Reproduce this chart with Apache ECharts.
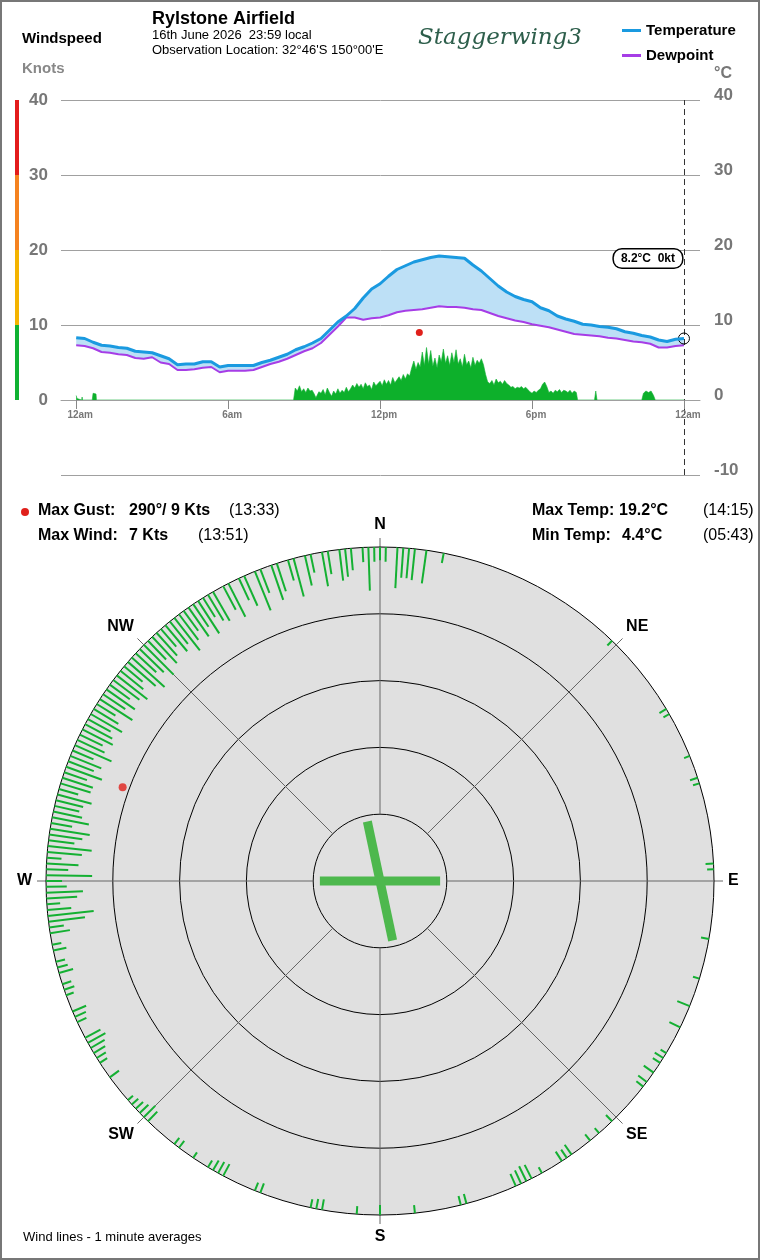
<!DOCTYPE html>
<html lang="en">
<head>
  <meta charset="UTF-8">
  <title>Rylstone Airfield</title>
  <script src="https://cdn.jsdelivr.net/npm/echarts@6/dist/echarts.min.js"></script>
  <style>
    html, body {
      margin: 0;
      padding: 0;
      background: #fff;
    }

    #chart-main {
      width: 760px;
      height: 1260px;
    }

    .frame {
      position: absolute;
      left: 0;
      top: 0;
      width: 760px;
      height: 1260px;
      box-sizing: border-box;
      border: 2px solid #777;
      pointer-events: none;
    }
  </style>
</head>
<body>
<div id="chart-main"></div>
<div class="frame"></div>

<script type="text/javascript">
  // observation times (minutes after midnight) for temperature / dewpoint
  const obsMinutes = [0, 20, 40, 60, 80, 100, 120, 140, 160, 180, 200, 220, 240, 260, 280, 300, 320, 340, 360, 380,
    400, 420, 440, 460, 480, 500, 520, 540, 560, 580, 600, 620, 640, 660, 680, 700, 720, 740, 760, 780,
    800, 820, 840, 860, 880, 900, 920, 940, 960, 980, 1000, 1020, 1040, 1060, 1080, 1100, 1120, 1140, 1160, 1180,
    1200, 1220, 1240, 1260, 1280, 1300, 1320, 1340, 1360, 1380, 1400, 1420, 1440]
  const temperature = [8.3, 8.2, 7.7, 7.3, 7.2, 7.0, 6.9, 6.5, 6.4, 6.3,
    5.9, 5.5, 4.7, 4.8, 4.8, 5.1, 5.1, 4.4, 4.6, 4.6,
    4.6, 4.6, 5.0, 5.3, 5.7, 6.1, 6.7, 7.1, 7.6, 8.2,
    9.3, 10.4, 11.2, 12.2, 13.6, 14.8, 15.5, 16.5, 17.4, 17.9,
    18.4, 18.7, 19.0, 19.2, 19.1, 19.0, 18.9, 18.0, 17.2, 16.2,
    15.2, 14.4, 13.8, 13.4, 13.1, 12.3, 11.9, 11.2, 10.8, 10.5,
    10.1, 10.0, 9.8, 9.7, 9.5, 9.1, 8.9, 8.6, 8.4, 8.0,
    7.8, 8.1, 8.2]
  const dewpoint = [7.3, 7.2, 6.9, 6.4, 6.3, 6.1, 6.0, 5.6, 5.5, 5.7,
    5.0, 4.8, 4.0, 4.0, 4.1, 4.3, 4.4, 3.7, 3.9, 3.9,
    3.9, 4.0, 4.4, 4.8, 5.1, 5.5, 6.0, 6.5, 6.9, 7.6,
    8.7, 9.8, 11.0, 11.0, 10.7, 10.9, 11.0, 11.3, 11.7, 11.9,
    12.0, 12.1, 12.3, 12.5, 12.4, 12.4, 12.3, 12.1, 12.0, 11.6,
    11.2, 10.9, 10.6, 10.4, 10.1, 9.9, 9.7, 9.4, 9.1, 8.8,
    8.7, 8.6, 8.5, 8.3, 8.2, 8.0, 7.8, 7.7, 7.5, 7.0,
    7.0, 7.2, 7.3]

  // windspeed trace (knots)
  const windMinutes = [0, 2, 4, 13, 14, 15, 38, 40, 44, 47, 48, 515,
    519, 524, 529, 534, 539, 544, 549, 554, 559, 564, 568, 572, 575, 580, 585, 590, 595, 600,
    605, 610, 615, 620, 625, 630, 635, 640, 645, 650, 655, 660, 665, 670, 675, 680, 685, 690, 695, 700,
    705, 710, 715, 720, 725, 730, 735, 740, 745, 750, 755, 760, 765, 770, 775, 780, 785, 790, 795, 800,
    805, 810, 815, 820, 825, 830, 835, 840, 845, 850, 855, 860, 865, 870, 875, 880, 885, 890, 895, 900,
    905, 910, 915, 920, 925, 930, 935, 940, 945, 950, 955, 960, 965, 970, 975, 980, 985, 990, 995, 1000,
    1005, 1010, 1015, 1020, 1025, 1030, 1035, 1040, 1045, 1050, 1055, 1060, 1065, 1070, 1075, 1080, 1085, 1090, 1095, 1100,
    1105, 1110, 1115, 1120, 1125, 1130, 1135, 1140, 1145, 1150, 1155, 1160, 1165, 1170, 1175, 1180, 1185, 1188,
    1228, 1231, 1234, 1340, 1344, 1350, 1356, 1362, 1368, 1372, 1440]
  const windKnots = [0.6, 0.2, 0, 0, 0.4, 0, 0, 0.9, 1.1, 0.8, 0, 0,
    1.6, 1.2, 1.9, 1.1, 1.5, 1.0, 1.6, 1.2, 1.3, 0.8, 0.3, 0.2, 1.1, 0.9, 1.4, 0.7, 1.6, 1.0,
    0.5, 1.2, 0.8, 1.5, 0.9, 1.3, 1.0, 1.7, 1.1, 1.5, 2.0, 1.6, 2.2, 1.7, 2.1, 1.5, 2.3, 1.8, 2.0, 1.4,
    2.4, 1.9, 2.2, 2.5, 1.9, 2.7, 2.1, 2.6, 2.0, 3.0, 2.3, 2.7, 3.1, 2.6, 3.4, 2.8, 3.5, 3.2, 4.3, 5.2,
    4.1, 5.0, 4.4, 6.4, 4.6, 7.0, 4.8, 6.6, 4.5, 5.6, 4.3, 6.0, 5.1, 6.8, 4.9, 5.9, 4.6, 6.3, 5.0, 6.7,
    4.8, 5.5, 4.4, 6.1, 4.7, 5.2, 4.3, 5.7, 4.6, 5.3, 4.9, 5.5, 4.7, 3.4, 2.4, 2.2, 2.6, 2.0, 2.8, 2.3,
    2.5, 2.1, 2.6, 2.2, 2.0, 1.7, 1.8, 1.5, 1.7, 1.6, 1.8, 1.5, 1.7, 1.4, 1.1, 0.9, 1.2, 1.0, 1.3, 1.5,
    2.1, 2.4, 1.8, 1.0, 1.2, 0.9, 1.3, 1.1, 1.4, 1.0, 1.3, 1.2, 1.0, 1.3, 0.9, 1.2, 1.0, 0,
    0, 1.2, 0, 0, 0.9, 1.2, 1.0, 1.2, 0.6, 0, 0]

  // 1 minute average wind: direction (deg true) and speed (knots)
  const windDirDeg = [0, 1, 3, 4, 5, 6, 8, 11,
    44, 59, 60, 68, 72, 73, 87, 88,
    100, 107, 112, 116, 121, 122, 123, 125, 127, 128,
    136, 139, 141, 145, 146, 147, 151, 153, 154, 155, 156,
    165, 166, 174, 180, 184, 190, 191, 192, 201, 202,
    208, 209, 210, 211, 214, 217, 218,
    224, 225, 226, 227, 228, 229, 234, 237, 238, 239, 240, 241, 242,
    245, 246, 247, 250, 251, 252, 254, 255, 256,
    258, 259, 261, 262, 263, 264, 265, 266, 267, 268, 269, 270,
    271, 272, 273, 274, 275, 276, 277, 278, 279, 280,
    281, 282, 283, 284, 285, 286, 287, 288, 289, 290,
    291, 292, 293, 294, 295, 296, 297, 298, 299, 300,
    301, 302, 303, 304, 305, 306, 307, 308, 309, 310,
    311, 312, 313, 314, 315, 316, 317, 318, 319, 320,
    321, 322, 323, 324, 325, 326, 327, 328, 329, 330,
    332, 333, 335, 336, 338, 339, 341, 342, 344, 345,
    347, 348, 350, 351, 353, 354, 355, 357, 358, 359]
  const windDirKts = [2.0, 2.2, 6.1, 4.5, 4.5, 4.7, 5.0, 1.5,
    1.0, 1.2, 1.0, 0.9, 1.2, 1.0, 1.2, 1.0,
    1.2, 1.0, 2.0, 1.8, 1.0, 1.5, 1.3, 1.8, 1.6, 1.3,
    1.3, 1.0, 1.2, 1.8, 1.5, 1.7, 1.0, 2.3, 2.5, 2.2, 2.0,
    1.5, 1.4, 1.2, 1.5, 1.2, 1.6, 1.5, 1.3, 1.5, 1.3,
    2.0, 1.9, 1.7, 1.2, 1.0, 1.3, 1.2,
    2.0, 2.4, 1.8, 1.5, 1.3, 1.0, 1.7, 1.3, 1.6, 2.0, 2.4, 3.0, 2.6,
    1.5, 1.8, 2.2, 1.2, 1.6, 1.4, 2.2, 1.6, 1.4,
    2.0, 1.4, 3.0, 2.2, 5.5, 6.9, 3.6, 2.0, 4.6, 5.5, 3.1, 2.4,
    6.9, 3.3, 4.8, 2.2, 5.2, 6.6, 3.9, 5.0, 6.0, 3.2,
    5.6, 4.4, 3.8, 4.2, 5.3, 3.0, 4.7, 4.8, 3.6, 5.7,
    4.1, 5.0, 3.4, 6.0, 4.5, 3.8, 5.1, 4.6, 3.9, 5.4,
    4.3, 3.3, 5.8, 4.0, 5.2, 3.7, 4.9, 5.8, 4.4, 3.6,
    5.5, 6.6, 4.2, 5.0, 6.3, 3.9, 5.4, 4.6, 3.5, 5.1,
    4.3, 6.2, 4.8, 3.7, 5.3, 4.1, 5.8, 3.4, 4.5, 5.0,
    4.0, 5.6, 3.6, 4.9, 6.3, 3.8, 5.5, 4.4, 3.2, 5.9,
    4.6, 2.8, 5.2, 3.5, 4.7, 4.2, 3.3, 2.2, 6.5, 2.2]

  // max gust: time (min), direction, knots
  const gust = {minute: 813, dir: 290, knots: 9}

  // runways: heading and half length (in knot-ring units)
  const runwayHeading = [90, 168]
  const runwayHalfLen = [9.0, 9.1]

  const tickMinutes = [0, 360, 720, 1080, 1440]
  const tickLabels = ['12am', '6am', '12pm', '6pm', '12am']
  const knotBands = [10, 20, 30, 40]
  const bandColors = ['#10b232', '#f4b400', '#f5821f', '#e31c1c']
  const ringKnots = [10, 20, 30, 40]
  const spokeDeg = [0, 45, 90, 135, 180, 225, 270, 315]
  const compass = ['N', 'NE', 'E', 'SE', 'S', 'SW', 'W', 'NW']

  const FONT = "'Liberation Sans', Arial, sans-serif"
  const GREY = '#777777'
  const RING_MAX = 50

  let echartItem = echarts.init(document.getElementById('chart-main'))

  const lastT = temperature[temperature.length - 1]
  const lastWind = windKnots[windKnots.length - 1]

  function txt(x, y, text, size, weight, color, family) {
    return {
      type: 'text',
      x: x,
      y: y,
      style: {
        text: text,
        font: (weight || 'normal') + ' ' + size + 'px ' + (family || FONT),
        fill: color || '#000',
        verticalAlign: 'middle'
      }
    }
  }

  function polarLine(r0, r1, stroke, width) {
    return function (params, api) {
      let a = api.value(1)
      let p0 = api.coord([r0 === null ? api.value(0) : r0, a])
      let p1 = api.coord([r1 === null ? api.value(0) : r1, a])
      return {
        type: 'line',
        shape: {x1: p0[0], y1: p0[1], x2: p1[0], y2: p1[1]},
        style: {stroke: stroke, lineWidth: width}
      }
    }
  }

  let bandSeries = knotBands.map((top, i) => ({
    type: 'bar',
    xAxisIndex: 1,
    yAxisIndex: 2,
    stack: 'scale',
    barWidth: '100%',
    silent: true,
    itemStyle: {color: bandColors[i]},
    data: [top - (i ? knotBands[i - 1] : 0)]
  }))

  let option = {
    animation: false,
    textStyle: {fontFamily: FONT},
    legend: {
      data: ['Temperature', 'Dewpoint'],
      orient: 'vertical',
      left: 617,
      top: 18,
      itemWidth: 19,
      itemHeight: 3,
      itemGap: 10,
      icon: 'rect',
      selectedMode: false,
      textStyle: {fontFamily: FONT, fontSize: 15, fontWeight: 'bold', color: '#000'}
    },
    grid: [
      {left: 61, right: 60, top: 100, height: 375},
      {left: 15, width: 4, top: 100, height: 300}
    ],
    xAxis: [
      {
        gridIndex: 0,
        type: 'value',
        min: -36,
        max: 1478,
        position: 'bottom',
        offset: -75,
        z: 10,
        axisLine: {show: true, onZero: false, lineStyle: {color: '#a0a0a0'}},
        axisTick: {show: true, customValues: tickMinutes, length: 9, lineStyle: {color: '#888'}},
        axisLabel: {
          customValues: tickMinutes,
          formatter: v => tickLabels[tickMinutes.indexOf(v)],
          color: GREY,
          fontSize: 10,
          fontWeight: 'bold',
          margin: 10,
          padding: [0, 0, 0, 8]
        },
        splitLine: {show: false}
      },
      {gridIndex: 1, type: 'category', data: ['k'], show: false}
    ],
    yAxis: [
      {
        gridIndex: 0,
        type: 'value',
        position: 'left',
        min: -10,
        max: 40,
        interval: 10,
        axisLine: {show: false},
        axisTick: {show: false},
        axisLabel: {
          formatter: v => v < 0 ? '' : v,
          color: GREY,
          fontSize: 17,
          fontWeight: 'bold',
          margin: 13
        },
        splitLine: {lineStyle: {color: '#a0a0a0', width: 1}}
      },
      {
        gridIndex: 0,
        type: 'value',
        position: 'right',
        min: -10,
        max: 40,
        interval: 10,
        axisLine: {show: false},
        axisTick: {show: false},
        axisLabel: {
          color: GREY,
          fontSize: 17,
          fontWeight: 'bold',
          margin: 14,
          verticalAlign: 'bottom',
          lineHeight: 10
        },
        splitLine: {show: false}
      },
      {gridIndex: 1, type: 'value', min: 0, max: 40, show: false}
    ],
    polar: {center: [380, 881], radius: 334},
    angleAxis: {
      type: 'value',
      min: 0,
      max: 360,
      interval: 45,
      startAngle: 90,
      clockwise: true,
      axisLine: {lineStyle: {color: '#000', width: 1}},
      axisTick: {show: true, length: 9, lineStyle: {color: '#666'}},
      axisLabel: {
        margin: 14,
        formatter: v => v >= 360 ? '' : compass[v / 45],
        color: '#000',
        fontSize: 16,
        fontWeight: 'bold'
      },
      splitLine: {show: false}
    },
    radiusAxis: {
      type: 'value',
      min: 0,
      max: RING_MAX,
      interval: 10,
      inverse: true,
      axisLine: {show: false},
      axisTick: {show: false},
      axisLabel: {show: false},
      splitLine: {show: false},
      splitArea: {show: true, areaStyle: {color: ['#e0e0e0']}}
    },
    graphic: [
      txt(22, 39, 'Windspeed', 15, 'bold'),
      txt(22, 69, 'Knots', 15, 'bold', '#888'),
      txt(152, 19, 'Rylstone Airfield', 18, 'bold'),
      txt(152, 35, '16th June 2026  23:59 local', 13),
      txt(152, 50, 'Observation Location: 32°46\'S 150°00\'E', 13),
      txt(418, 38, 'Staggerwing3', 23, 'italic', '#2d5e4b', "'DejaVu Serif', serif"),
      txt(714, 74, '°C', 16, 'bold', GREY),
      {type: 'circle', shape: {cx: 25, cy: 512, r: 4}, style: {fill: '#e0201b'}},
      txt(38, 511, 'Max Gust:', 16, 'bold'),
      txt(129, 511, gust.dir + '°/ ' + gust.knots + ' Kts', 16, 'bold'),
      txt(229, 511, '(13:33)', 16),
      txt(38, 536, 'Max Wind:', 16, 'bold'),
      txt(129, 536, '7 Kts', 16, 'bold'),
      txt(198, 536, '(13:51)', 16),
      txt(532, 511, 'Max Temp:', 16, 'bold'),
      txt(619, 511, '19.2°C', 16, 'bold'),
      txt(703, 511, '(14:15)', 16),
      txt(532, 536, 'Min Temp:', 16, 'bold'),
      txt(622, 536, '4.4°C', 16, 'bold'),
      txt(703, 536, '(05:43)', 16),
      txt(23, 1237, 'Wind lines - 1 minute averages', 13)
    ],
    series: [
      {
        name: 'Wind',
        type: 'line',
        xAxisIndex: 0,
        yAxisIndex: 0,
        data: windMinutes.map((m, i) => [m, windKnots[i]]),
        showSymbol: false,
        silent: true,
        z: 2,
        lineStyle: {width: 0.6, color: '#12b035'},
        areaStyle: {color: '#0db02b', opacity: 1, origin: 0}
      },
      {
        name: 'band',
        type: 'custom',
        xAxisIndex: 0,
        yAxisIndex: 1,
        silent: true,
        z: 3,
        data: [[0, 0]],
        renderItem: function (params, api) {
          let top = obsMinutes.map((m, i) => api.coord([m, temperature[i]]))
          let low = obsMinutes.map((m, i) => api.coord([m, dewpoint[i]])).reverse()
          return {
            type: 'polygon',
            shape: {points: top.concat(low)},
            style: {fill: '#bde0f6'}
          }
        }
      },
      {
        name: 'Dewpoint',
        type: 'line',
        xAxisIndex: 0,
        yAxisIndex: 1,
        data: obsMinutes.map((m, i) => [m, dewpoint[i]]),
        showSymbol: false,
        z: 4,
        color: '#a63de6',
        lineStyle: {color: '#a63de6', width: 2}
      },
      {
        name: 'Temperature',
        type: 'line',
        xAxisIndex: 0,
        yAxisIndex: 1,
        data: obsMinutes.map((m, i) => [m, temperature[i]]),
        showSymbol: false,
        z: 5,
        color: '#1a9ae0',
        lineStyle: {color: '#1a9ae0', width: 3},
        markLine: {
          silent: true,
          symbol: ['none', 'none'],
          label: {show: false},
          lineStyle: {type: [6, 4], color: '#333', width: 1},
          data: [{xAxis: 1440}]
        },
        markPoint: {
          silent: true,
          symbol: 'circle',
          symbolSize: 11,
          itemStyle: {color: 'rgba(255,255,255,0)', borderColor: '#000', borderWidth: 1},
          label: {
            show: true,
            position: 'top',
            offset: [-36, -60],
            formatter: lastT.toFixed(1) + '°C  ' + lastWind + 'kt',
            backgroundColor: '#fff',
            borderColor: '#000',
            borderWidth: 1.5,
            borderRadius: 8,
            padding: [3, 7],
            fontSize: 12,
            fontWeight: 'bold',
            color: '#000'
          },
          data: [{coord: [1440, lastT]}]
        }
      },
      {
        name: 'gust',
        type: 'line',
        xAxisIndex: 0,
        yAxisIndex: 0,
        data: [[gust.minute, gust.knots]],
        showSymbol: true,
        symbol: 'circle',
        symbolSize: 7,
        z: 6,
        lineStyle: {opacity: 0},
        itemStyle: {color: '#e0201b'}
      },
      ...bandSeries,
      {
        name: 'rings',
        type: 'custom',
        coordinateSystem: 'polar',
        silent: true,
        data: ringKnots.map(r => [r, 0]),
        renderItem: function (params, api) {
          let c = api.coord([RING_MAX, 0])
          let e = api.coord([api.value(0), 0])
          return {
            type: 'circle',
            shape: {cx: c[0], cy: c[1], r: Math.hypot(e[0] - c[0], e[1] - c[1])},
            style: {fill: 'none', stroke: '#000', lineWidth: 1}
          }
        }
      },
      {
        name: 'spokes',
        type: 'custom',
        coordinateSystem: 'polar',
        silent: true,
        data: spokeDeg.map(a => [0, a]),
        renderItem: polarLine(RING_MAX - 10, 0, '#666', 1)
      },
      {
        name: 'windLines',
        type: 'custom',
        coordinateSystem: 'polar',
        silent: true,
        data: windDirDeg.map((d, i) => [windDirKts[i], d]),
        renderItem: polarLine(0, null, '#14b032', 2)
      },
      {
        name: 'runways',
        type: 'custom',
        coordinateSystem: 'polar',
        silent: true,
        data: runwayHeading.map((h, i) => [RING_MAX - runwayHalfLen[i], h]),
        renderItem: function (params, api) {
          let r = api.value(0)
          let h = api.value(1)
          let p0 = api.coord([r, h])
          let p1 = api.coord([r, h + 180])
          return {
            type: 'line',
            shape: {x1: p0[0], y1: p0[1], x2: p1[0], y2: p1[1]},
            style: {stroke: '#4db84d', lineWidth: 9}
          }
        }
      },
      {
        name: 'gustPolar',
        type: 'scatter',
        coordinateSystem: 'polar',
        data: [[gust.knots, gust.dir]],
        symbolSize: 8,
        itemStyle: {color: '#e0201b'}
      }
    ]
  }

  echartItem.setOption(option)
</script>
</body>
</html>
